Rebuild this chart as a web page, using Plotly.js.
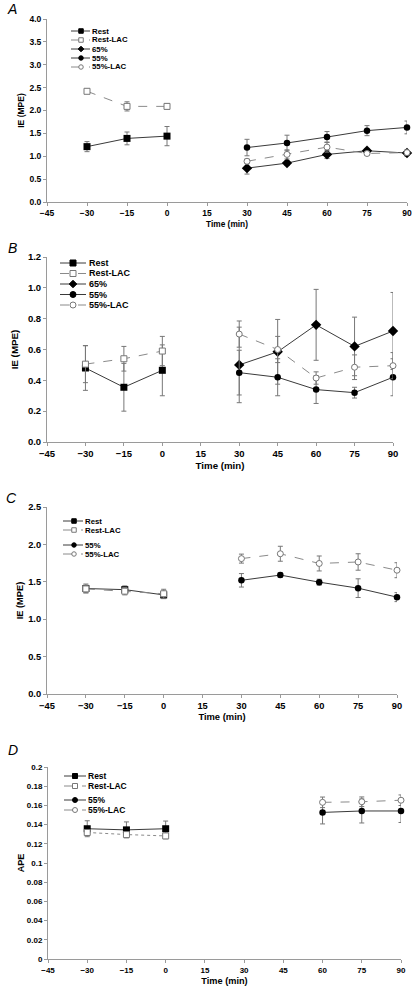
<!DOCTYPE html>
<html>
<head>
<meta charset="utf-8">
<script src="https://cdn.plot.ly/plotly-3.0.1.min.js"></script>
<style>html,body{margin:0;padding:0;background:#fff;}#chart{width:418px;height:992px;}</style>
</head>
<body>
<div id="chart"></div>
<script>
// ---------- DATA ----------
const seriesNames = ['Rest', 'Rest-LAC', '65%', '55%', '55%-LAC'];
const timeRest = [-30, -15, 0];
const timeEx = [30, 45, 60, 75, 90];
const timeExD = [60, 75, 90];
const xTicks = [-45, -30, -15, 0, 15, 30, 45, 60, 75, 90];

// Panel A
const aRest = [1.21, 1.39, 1.44];          const aRestErr = [0.11, 0.14, 0.21];
const aRestLac = [2.42, 2.09, 2.09];       const aRestLacErr = [0.05, 0.10, 0.06];
const a65 = [0.74, 0.85, 1.04, 1.12, 1.07]; const a65Err = [0.13, 0.05, 0.09, 0.05, 0.07];
const a55 = [1.19, 1.29, 1.42, 1.56, 1.63]; const a55Err = [0.18, 0.17, 0.12, 0.11, 0.14];
const a55Lac = [0.89, 1.04, 1.20, 1.06, 1.08]; const a55LacErr = [0.05, 0.10, 0.11, 0.04, 0.05];
const aYTicks = [0, 0.5, 1, 1.5, 2, 2.5, 3, 3.5, 4];
const aYLabels = ['0.0', '0.5', '1.0', '1.5', '2.0', '2.5', '3.0', '3.5', '4.0'];

// Panel B
const bRest = [0.48, 0.355, 0.465];        const bRestErr = [0.145, 0.155, 0.165];
const bRestLac = [0.505, 0.54, 0.59];      const bRestLacErr = [0.12, 0.08, 0.095];
const b65 = [0.50, 0.585, 0.76, 0.62, 0.72]; const b65Err = [0.245, 0.21, 0.23, 0.19, 0.25];
const b55 = [0.45, 0.42, 0.34, 0.32, 0.42]; const b55Err = [0.145, 0.12, 0.09, 0.035, 0.12];
const b55Lac = [0.70, 0.60, 0.415, 0.485, 0.495]; const b55LacErr = [0.085, 0.085, 0.04, 0.08, 0.085];
const bYTicks = [0, 0.2, 0.4, 0.6, 0.8, 1.0, 1.2];
const bYLabels = ['0.0', '0.2', '0.4', '0.6', '0.8', '1.0', '1.2'];

// Panel C
const cRest = [1.41, 1.395, 1.325];        const cRestErr = [0.06, 0.05, 0.05];
const cRestLac = [1.405, 1.375, 1.34];     const cRestLacErr = [0.05, 0.05, 0.06];
const c55 = [1.52, 1.59, 1.495, 1.415, 1.295]; const c55Err = [0.09, 0.03, 0.04, 0.125, 0.06];
const c55Lac = [1.81, 1.875, 1.745, 1.765, 1.655]; const c55LacErr = [0.06, 0.10, 0.10, 0.11, 0.10];
const cYTicks = [0, 0.5, 1, 1.5, 2, 2.5];
const cYLabels = ['0.0', '0.5', '1.0', '1.5', '2.0', '2.5'];

// Panel D
const dRest = [0.1357, 0.1345, 0.1357];    const dRestErr = [0.0083, 0.0083, 0.008];
const dRestLac = [0.1318, 0.1296, 0.1282]; const dRestLacErr = [0.002, 0.003, 0.003];
const d55 = [0.1527, 0.1542, 0.1542];      const d55Err = [0.012, 0.0125, 0.012];
const d55Lac = [0.1632, 0.1638, 0.1654];   const d55LacErr = [0.0055, 0.005, 0.0055];
const dYTicks = [0, 0.02, 0.04, 0.06, 0.08, 0.1, 0.12, 0.14, 0.16, 0.18, 0.2];
const dYLabels = ['0', '0.02', '0.04', '0.06', '0.08', '0.1', '0.12', '0.14', '0.16', '0.18', '0.2'];

// ---------- STYLE ----------
const W = 418, H = 992;
const FONT = 'Liberation Sans, Arial, sans-serif';
const AX = '#9a9a9a';
const styles = [
  {symbol: 'square', color: '#000', lineColor: '#3a3a3a', dash: 'solid', open: false},
  {symbol: 'square', color: '#777', lineColor: '#8a8a8a', dash: 'dash', open: true},
  {symbol: 'diamond', color: '#000', lineColor: '#3a3a3a', dash: 'solid', open: false},
  {symbol: 'circle', color: '#000', lineColor: '#3a3a3a', dash: 'solid', open: false},
  {symbol: 'circle', color: '#777', lineColor: '#8a8a8a', dash: 'dash', open: true}
];

const panels = [
  {id: '', x0: 47, x1: 407, y0: 19, y1: 202, yr: [0, 4], yt: aYTicks, yl: aYLabels, ytitle: 'IE (MPE)',
   tickfs: 8.5, ytfs: 8.5, xtfs: 8.3, ystand: 3, letter: 'A', lx: 12, ly: 9,
   leg: {lx0: 71, lx1: 90, mx: 81, tx: 91, rows: [31, 40, 49, 58, 67], items: [0, 1, 2, 3, 4], ms: 4.5, fs: 7.8}},
  {id: '2', x0: 47, x1: 393, y0: 257, y1: 442, yr: [0, 1.2], yt: bYTicks, yl: bYLabels, ytitle: 'IE (MPE)',
   tickfs: 9.5, ytfs: 9.8, xtfs: 9.7, ystand: 7, letter: 'B', lx: 12, ly: 248,
   leg: {lx0: 60, lx1: 86, mx: 73, tx: 88, rows: [263, 273.5, 284, 294.5, 305], items: [0, 1, 2, 3, 4], ms: 6, fs: 9}},
  {id: '3', x0: 47, x1: 397, y0: 507, y1: 694, yr: [0, 2.5], yt: cYTicks, yl: cYLabels, ytitle: 'IE (MPE)',
   tickfs: 9.3, ytfs: 9.3, xtfs: 9.4, ystand: 2, letter: 'C', lx: 11, ly: 498,
   leg: {lx0: 63, lx1: 83, mx: 74, tx: 84, rows: [521, 530, 545, 554], items: [0, 1, 3, 4], ms: 4.5, fs: 7.8}},
  {id: '4', x0: 48, x1: 401, y0: 767, y1: 959, yr: [0, 0.2], yt: dYTicks, yl: dYLabels, ytitle: 'APE',
   tickfs: 8, ytfs: 9, xtfs: 9.2, ystand: 0, letter: 'D', lx: 13, ly: 750,
   leg: {lx0: 64, lx1: 86, mx: 75, tx: 87, rows: [776, 786, 800, 810], items: [0, 1, 3, 4], ms: 5, fs: 8.5}}
];

const markerSizes = [7, 6, 8, 6.5, 6];

function trace(p, x, y, err, si, dash) {
  const s = styles[si];
  return {
    type: 'scatter', mode: 'lines+markers', x: x, y: y, name: seriesNames[si],
    xaxis: 'x' + p.id, yaxis: 'y' + p.id, showlegend: false, cliponaxis: false,
    line: {color: s.lineColor, width: 1, dash: dash || s.dash},
    marker: {symbol: s.symbol, size: markerSizes[si], color: s.open ? '#fff' : s.color,
             line: {color: s.color, width: s.open ? 1 : 0}},
    error_y: {type: 'data', array: err, visible: true, color: '#777', thickness: 1, width: 2.5}
  };
}

const data = [
  trace(panels[0], timeRest, aRest, aRestErr, 0),
  trace(panels[0], timeRest, aRestLac, aRestLacErr, 1),
  trace(panels[0], timeEx, a65, a65Err, 2),
  trace(panels[0], timeEx, a55, a55Err, 3),
  trace(panels[0], timeEx, a55Lac, a55LacErr, 4),
  trace(panels[1], timeRest, bRest, bRestErr, 0),
  trace(panels[1], timeRest, bRestLac, bRestLacErr, 1),
  trace(panels[1], timeEx, b65, b65Err, 2),
  trace(panels[1], timeEx, b55, b55Err, 3),
  trace(panels[1], timeEx, b55Lac, b55LacErr, 4),
  trace(panels[2], timeRest, cRest, cRestErr, 0),
  trace(panels[2], timeRest, cRestLac, cRestLacErr, 1),
  trace(panels[2], timeEx, c55, c55Err, 3),
  trace(panels[2], timeEx, c55Lac, c55LacErr, 4),
  trace(panels[3], timeRest, dRest, dRestErr, 0),
  trace(panels[3], timeRest, dRestLac, dRestLacErr, 1, 'dot'),
  trace(panels[3], timeExD, d55, d55Err, 3),
  trace(panels[3], timeExD, d55Lac, d55LacErr, 4)
];

const px = v => v / W;
const py = v => 1 - v / H;

const layout = {
  width: W, height: H, margin: {l: 0, r: 0, t: 0, b: 0},
  paper_bgcolor: '#fff', plot_bgcolor: '#fff', showlegend: false,
  font: {family: FONT, color: '#000'},
  shapes: [], annotations: []
};

panels.forEach(p => {
  const tf = {family: FONT, size: p.tickfs, weight: 'bold', color: '#000'};
  layout['xaxis' + p.id] = {
    domain: [px(p.x0), px(p.x1)], range: [-45, 90], anchor: 'y' + p.id,
    tickmode: 'array', tickvals: xTicks, ticks: 'outside', ticklen: 3, tickcolor: AX,
    showline: true, linecolor: AX, linewidth: 1, showgrid: false, zeroline: false,
    tickfont: tf, fixedrange: true,
    title: {text: 'Time (min)', font: {family: FONT, size: p.xtfs, weight: 'bold', color: '#000'}, standoff: 3}
  };
  layout['yaxis' + p.id] = {
    domain: [py(p.y1), py(p.y0)], range: p.yr, anchor: 'x' + p.id,
    tickmode: 'array', tickvals: p.yt, ticktext: p.yl, ticks: 'outside', ticklen: 3, tickcolor: AX,
    showline: true, linecolor: AX, linewidth: 1, showgrid: false, zeroline: false,
    tickfont: tf, fixedrange: true,
    title: {text: p.ytitle, font: {family: FONT, size: p.ytfs, weight: 'bold', color: '#000'}, standoff: p.ystand}
  };
  layout.annotations.push({
    xref: 'paper', yref: 'paper', x: px(p.lx), y: py(p.ly), xanchor: 'center', yanchor: 'middle',
    text: p.letter, showarrow: false,
    font: {family: FONT, size: 14, style: 'italic', color: '#000'}
  });
  // legend (drawn as keys + text)
  const L = p.leg;
  L.items.forEach((si, k) => {
    const s = styles[si];
    const yy = L.rows[k];
    layout.shapes.push({type: 'line', xref: 'paper', yref: 'paper',
      x0: px(L.lx0), x1: px(L.lx1), y0: py(yy), y1: py(yy),
      line: {color: s.lineColor, width: 1, dash: s.dash}});
    const h = L.ms / 2;
    const fill = s.open ? '#fff' : '#000';
    const lc = s.open ? '#777' : '#000';
    if (si === 0 || si === 1) {
      layout.shapes.push({type: 'rect', xref: 'paper', yref: 'paper',
        x0: px(L.mx - h), x1: px(L.mx + h), y0: py(yy + h), y1: py(yy - h),
        fillcolor: fill, line: {color: lc, width: 1}});
    } else if (si === 2) {
      const d = h * 1.25;
      layout.shapes.push({type: 'path', xref: 'paper', yref: 'paper',
        path: `M ${px(L.mx - d)} ${py(yy)} L ${px(L.mx)} ${py(yy - d)} L ${px(L.mx + d)} ${py(yy)} L ${px(L.mx)} ${py(yy + d)} Z`,
        fillcolor: fill, line: {color: lc, width: 1}});
    } else {
      layout.shapes.push({type: 'circle', xref: 'paper', yref: 'paper',
        x0: px(L.mx - h), x1: px(L.mx + h), y0: py(yy + h), y1: py(yy - h),
        fillcolor: fill, line: {color: lc, width: 1}});
    }
    layout.annotations.push({
      xref: 'paper', yref: 'paper', x: px(L.tx), y: py(yy), xanchor: 'left', yanchor: 'middle',
      text: seriesNames[si], showarrow: false, borderpad: 0,
      font: {family: FONT, size: L.fs, weight: 'bold', color: '#000'}
    });
  });
});

Plotly.newPlot('chart', data, layout, {staticPlot: true, displayModeBar: false});
</script>
</body>
</html>
